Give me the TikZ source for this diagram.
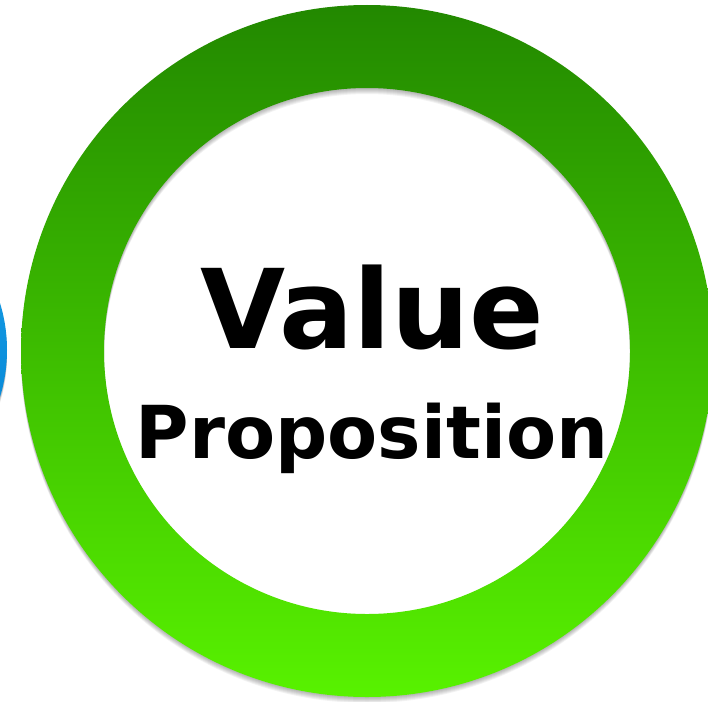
\documentclass[tikz,border=0pt]{standalone}
\usepackage{fontspec}
\setmainfont{DejaVu Sans}
\usetikzlibrary{positioning}

\definecolor{ringtop}{RGB}{34,136,0}
\definecolor{ringbot}{RGB}{88,242,0}
\definecolor{bluetop}{RGB}{28,162,232}
\definecolor{bluebot}{RGB}{0,128,210}

\begin{document}
\begin{tikzpicture}[x=1pt, y=-1pt]
    		\tikzstyle{ringshadow} = [fill=black, opacity=0.05, even odd rule]
    		\tikzstyle{bigword} = [anchor=base, inner sep=0pt, font=\fontsize{110}{110}\selectfont\bfseries]
    		\tikzstyle{smallword} = [anchor=base, inner sep=0pt, font=\fontsize{73}{73}\selectfont\bfseries]
    		\fill[white] (0,0) rectangle (708,701);
    		\useasboundingbox (0,0) rectangle (708,701);
    		\begin{scope}
    		\clip (0,0) rectangle (708,701);
    		% soft shadows
		\foreach \d in {1,...,6}
    		{
        		\fill[ringshadow] (-153,350+\d) circle[radius=160pt];
        		\fill[ringshadow] (367,351+\d) circle[radius=346pt] (367,351+\d) circle[radius=263pt];
    		}
    		% blue circle on the left
    		\shade[top color=bluetop, bottom color=bluebot] (-153,350) circle[radius=160pt];
    		% green ring
    		\shade[top color=ringtop, bottom color=ringbot, even odd rule] (367,351) circle[radius=346pt] (367,351) circle[radius=263pt];
    		\end{scope}
    		\coordinate (C) at (367,351);
    		\node[bigword] (value) at (372,348) {Value};
    		\node[smallword] (prop) at (372,458) {Proposition};
		\end{tikzpicture}
\end{document}
